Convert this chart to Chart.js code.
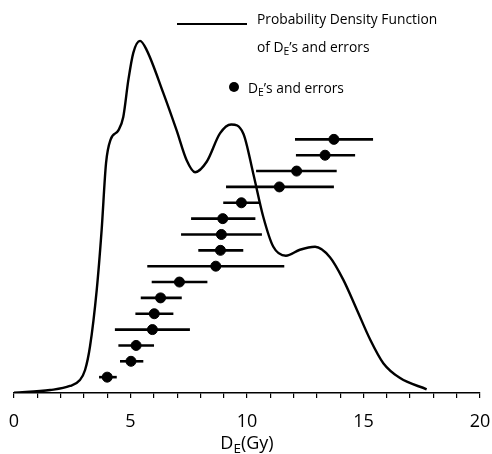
<!DOCTYPE html>
<html>
<head>
<meta charset="utf-8">
<script src="https://cdn.jsdelivr.net/npm/chart.js@4.4.0/dist/chart.umd.min.js"></script>
<style>
  html, body { margin: 0; padding: 0; background: #fff; }
  #wrap { width: 492px; height: 454px; }
</style>
</head>
<body>
<div id="wrap"><canvas id="chart" width="492" height="454"></canvas></div>
<script>
// probability density function
const pdfX = [0, 1.55, 2.4, 2.83, 3.05, 3.26, 3.55, 3.76, 3.95, 4.15, 4.48, 4.69, 4.91, 5.12, 5.41, 5.69, 6.41, 6.98, 7.41, 7.77, 8.27, 8.84, 9.32, 9.84, 10.27, 10.7, 11.13, 11.67, 12.27, 12.92, 13.56, 14.13, 14.71, 15.28, 15.85, 16.57, 17.71]
const pdfY = [0.0002, 0.002, 0.0047, 0.0087, 0.0154, 0.031, 0.069, 0.109, 0.154, 0.170, 0.176, 0.185, 0.210, 0.228, 0.236, 0.230, 0.201, 0.176, 0.156, 0.148, 0.155, 0.174, 0.180, 0.174, 0.147, 0.118, 0.098, 0.092, 0.096, 0.098, 0.091, 0.076, 0.056, 0.036, 0.020, 0.010, 0.0025]

// individual DE's and their errors, bottom to top
const deRank = [1, 2, 3, 4, 5, 6, 7, 8, 9, 10, 11, 12, 13, 14, 15, 16]
const deValue = [4.00, 5.02, 5.24, 5.94, 6.02, 6.29, 7.10, 8.66, 8.86, 8.90, 8.96, 9.76, 11.39, 12.13, 13.35, 13.73]
const deLow = [3.65, 4.55, 4.48, 4.33, 5.21, 5.44, 5.91, 5.72, 7.91, 7.17, 7.60, 8.98, 9.10, 10.39, 12.10, 12.06]
const deHigh = [4.41, 5.55, 6.01, 7.55, 6.84, 7.20, 8.30, 11.60, 9.84, 10.64, 10.36, 10.56, 13.73, 13.85, 14.64, 15.41]

const xTicks = [0, 5, 10, 15, 20]

const FONT = '"Open Sans", "DejaVu Sans", sans-serif'

// text with a subscript part
const drawParts = (ctx, parts, x, y, size) => {
  let cx = x
  parts.forEach(p => {
    const s = p.sub ? size * 0.75 : size
    ctx.font = `${s}px ${FONT}`
    ctx.fillText(p.t, cx, p.sub ? y + size * 0.28 : y)
    cx += ctx.measureText(p.t).width
  })
  return cx - x
}
const partsWidth = (ctx, parts, size) => {
  let w = 0
  parts.forEach(p => {
    ctx.font = `${p.sub ? size * 0.75 : size}px ${FONT}`
    w += ctx.measureText(p.t).width
  })
  return w
}

const errorBars = {
  id: 'errorBars',
  afterDatasetsDraw(chart) {
    const { ctx, scales: { x, y2 } } = chart
    ctx.save()
    ctx.strokeStyle = '#000'
    ctx.lineWidth = 2.6
    ctx.lineCap = 'butt'
    deRank.forEach((r, i) => {
      const py = y2.getPixelForValue(r)
      ctx.beginPath()
      ctx.moveTo(x.getPixelForValue(deLow[i]), py)
      ctx.lineTo(x.getPixelForValue(deHigh[i]), py)
      ctx.stroke()
    })
    ctx.restore()
  }
}

const labels = {
  id: 'labels',
  afterDraw(chart) {
    const { ctx, chartArea } = chart
    ctx.save()
    ctx.fillStyle = '#000'
    ctx.textBaseline = 'middle'
    ctx.textAlign = 'left'

    // legend
    ctx.strokeStyle = '#000'
    ctx.lineWidth = 2.2
    ctx.beginPath()
    ctx.moveTo(177, 24)
    ctx.lineTo(247, 24)
    ctx.stroke()
    ctx.font = `13.8px ${FONT}`
    ctx.fillText('Probability Density Function', 257, 20)
    drawParts(ctx, [{ t: 'of D' }, { t: 'E', sub: true }, { t: '’s and errors' }], 257, 48, 13.8)
    ctx.beginPath()
    ctx.arc(234, 87, 5, 0, Math.PI * 2)
    ctx.fill()
    drawParts(ctx, [{ t: 'D' }, { t: 'E', sub: true }, { t: '’s and errors' }], 248, 89, 13.8)

    // x axis title
    const title = [{ t: 'D' }, { t: 'E', sub: true }, { t: '(Gy)' }]
    const w = partsWidth(ctx, title, 18)
    drawParts(ctx, title, (chartArea.left + chartArea.right) / 2 - w / 2, 444, 18)
    ctx.restore()
  }
}

const ctx = document.getElementById('chart').getContext('2d')

new Chart(ctx, {
  data: {
    datasets: [
      {
        type: 'line',
        label: 'Probability Density Function of DE’s and errors',
        data: pdfX.map((v, i) => ({ x: v, y: pdfY[i] })),
        borderColor: '#000',
        borderWidth: 2.4,
        pointRadius: 0,
        fill: false,
        cubicInterpolationMode: 'monotone',
        yAxisID: 'y'
      },
      {
        type: 'scatter',
        label: 'DE’s and errors',
        data: deValue.map((v, i) => ({ x: v, y: deRank[i] })),
        backgroundColor: '#000',
        borderColor: '#000',
        pointRadius: 5,
        yAxisID: 'y2'
      }
    ]
  },
  options: {
    responsive: false,
    animation: false,
    layout: { padding: { top: 20, left: 14, right: 12, bottom: 0 } },
    scales: {
      x: {
        type: 'linear',
        min: 0,
        max: 20,
        afterFit: (scale) => {
          scale.height = 61
          scale.paddingLeft = 0
          scale.paddingRight = 0
        },
        border: { display: true, color: '#000', width: 1.5 },
        grid: { display: true, drawOnChartArea: false, drawTicks: true, tickLength: 5, color: '#000', lineWidth: 1.2 },
        ticks: {
          stepSize: 1,
          color: '#000',
          padding: 13,
          maxRotation: 0,
          autoSkip: false,
          font: { family: FONT, size: 18 },
          callback: (v) => xTicks.includes(v) ? String(v) : ''
        }
      },
      y: { type: 'linear', display: false, min: 0, max: 0.25 },
      y2: { type: 'linear', display: false, min: 0, max: 23.53 }
    },
    plugins: {
      legend: { display: false },
      tooltip: { enabled: false }
    }
  },
  plugins: [errorBars, labels]
})
</script>
</body>
</html>
